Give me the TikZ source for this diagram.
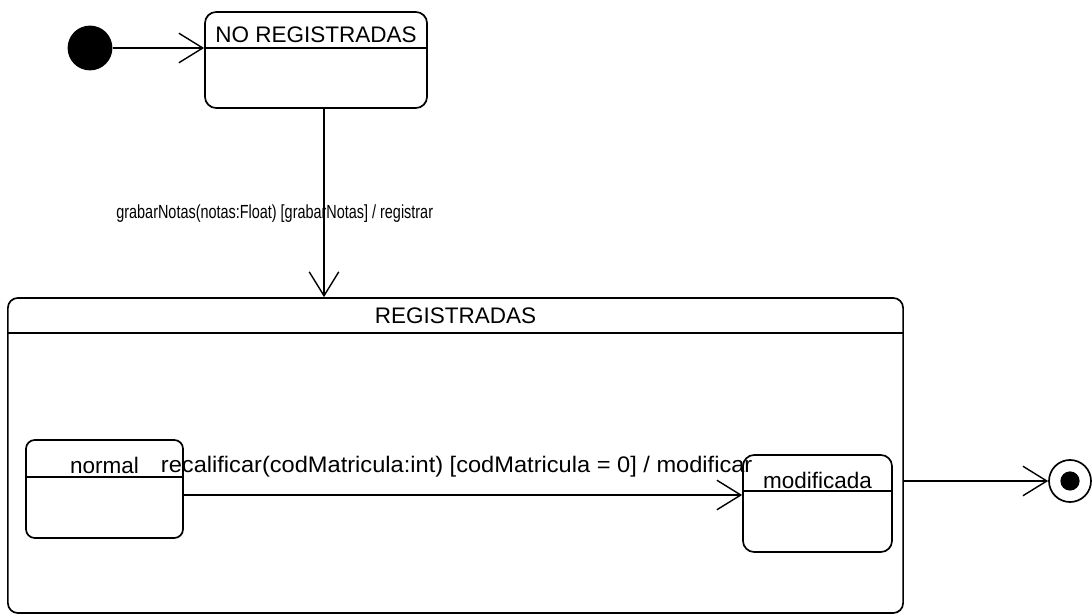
\documentclass[tikz,border=0pt]{standalone}
\usepackage{fontspec}
\setmainfont{Liberation Sans}
\usepackage{tikz}
\usetikzlibrary{arrows.meta, positioning}

\begin{document}
\begin{tikzpicture}[
			x=0.025cm, y=-0.025cm,
			font=\fontsize{16}{19}\selectfont,
			estado/.style={rectangle, rounded corners=0.28cm, draw=black, line width=1.2pt, inner sep=0pt},
			titulo/.style={inner sep=0pt, text height=12pt, text depth=3.5pt},
			inicial/.style={circle, fill=black, minimum size=1.12cm, inner sep=0pt},
			final/.style={circle, draw=black, line width=1.2pt, minimum size=1.05cm, inner sep=0pt},
			etiqueta/.style={inner sep=0pt, text height=12pt, text depth=3.5pt},
			trans/.style={line width=1pt, -{Straight Barb[length=17pt, width=21pt, line width=1pt]}}
			]
			\useasboundingbox (0,0) rectangle (1092,615);
			
			% Estados
			\node (ini) [inicial] at (90,48) {};
			\node (noreg) [estado, minimum width=5.55cm, minimum height=2.4cm] at (316,60) {};
			\node (reg) [estado, rounded corners=0.25cm, minimum width=22.375cm, minimum height=7.875cm] at (455.5,455.5) {};
			\node (normal) [estado, rounded corners=0.22cm, minimum width=3.925cm, minimum height=2.45cm] at (104.5,489) {};
			\node (modif) [estado, minimum width=3.725cm, minimum height=2.425cm] at (817.5,503.5) {};
			\node (fin) [final] at (1070,481) {};
			\fill (fin) circle (0.24cm);
			
			% Titulos
			\node (noregT) [titulo, below=0.35cm of noreg.north] {NO REGISTRADAS};
			\node (regT) [titulo, below=0.225cm of reg.north] {REGISTRADAS};
			\node (normalT) [titulo, below=0.425cm of normal.north] {normal};
			\node (modifT) [titulo, below=0.425cm of modif.north] {modificada};
			
			% Divisiones
			\draw [line width=1.2pt] ([yshift=-0.925cm]noreg.north west) -- ([yshift=-0.925cm]noreg.north east);
			\draw [line width=1.2pt] ([yshift=-0.9cm]reg.north west) -- ([yshift=-0.9cm]reg.north east);
			\draw [line width=1.2pt] ([yshift=-0.95cm]normal.north west) -- ([yshift=-0.95cm]normal.north east);
			\draw [line width=1.2pt] ([yshift=-0.925cm]modif.north west) -- ([yshift=-0.925cm]modif.north east);
			
			% Transiciones
			\draw [trans] (ini) -- (ini -| noreg.west);
			\draw [trans] ([xshift=0.2cm]noreg.south) -- ([xshift=0.2cm]noreg.south |- reg.north)
				node[etiqueta, font=\fontsize{13.5}{16}\selectfont, xscale=0.76, pos=0.55, xshift=-1.62cm] {grabarNotas(notas:Float) [grabarNotas] / registrar};
			\draw [trans] ([yshift=-0.15cm]normal.east) -- ([yshift=-0.15cm]normal.east -| modif.west)
				node[etiqueta, xscale=1.05, midway, yshift=0.72cm, xshift=-0.15cm] {recalificar(codMatricula:int) [codMatricula = 0] / modificar};
			\draw [trans] (reg.east |- fin) -- (fin);
			
		\end{tikzpicture}
\end{document}
